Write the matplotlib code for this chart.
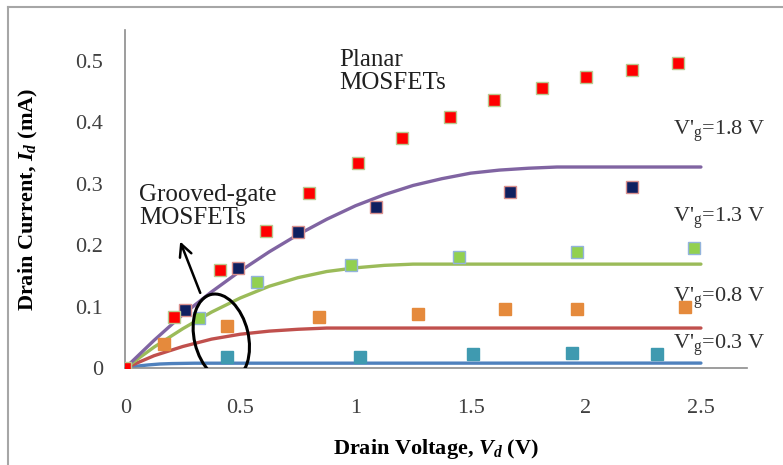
import matplotlib
matplotlib.use("Agg")
import matplotlib.pyplot as plt
from matplotlib.lines import Line2D
from matplotlib.patches import Ellipse
from matplotlib.transforms import ScaledTranslation
from matplotlib.ticker import FuncFormatter

plt.rcParams["font.family"] = ["Liberation Serif", "DejaVu Serif"]
plt.rcParams["mathtext.fontset"] = "custom"
plt.rcParams["mathtext.rm"] = "Liberation Serif"
plt.rcParams["mathtext.it"] = "Liberation Serif:italic:bold"
plt.rcParams["mathtext.bf"] = "Liberation Serif:bold"

# ---------------------------------------------------------------------------
# Data
# ---------------------------------------------------------------------------

# Planar MOSFET measurements (red squares)
planar_vd = [0.0, 0.21, 0.41, 0.61, 0.80, 1.01, 1.20, 1.41, 1.60, 1.81, 2.00, 2.20, 2.40]
planar_id = [0.0, 0.083, 0.160, 0.223, 0.285, 0.334, 0.375, 0.409, 0.436, 0.456, 0.474, 0.485, 0.497]

# Grooved-gate measurements, one list per gate voltage
g18_vd = [0.26, 0.49, 0.75, 1.09, 1.67, 2.20]
g18_id = [0.094, 0.163, 0.222, 0.262, 0.286, 0.295]
g13_vd = [0.32, 0.57, 0.98, 1.45, 1.96, 2.47]
g13_id = [0.081, 0.140, 0.168, 0.181, 0.189, 0.195]
g08_vd = [0.17, 0.44, 0.84, 1.27, 1.65, 1.96, 2.43]
g08_id = [0.039, 0.068, 0.083, 0.088, 0.096, 0.096, 0.099]
g03_vd = [0.44, 1.02, 1.51, 1.94, 2.31]
g03_id = [0.018, 0.018, 0.022, 0.024, 0.022]

# Model curves
m18_vd = [0.0, 0.125, 0.25, 0.375, 0.5, 0.625, 0.75, 0.875, 1.0, 1.125, 1.25,
          1.375, 1.5, 1.625, 1.75, 1.875, 2.0, 2.5]
m18_id = [0.0, 0.045, 0.087, 0.124, 0.158, 0.189, 0.217, 0.242, 0.264, 0.282, 0.297,
          0.308, 0.317, 0.322, 0.325, 0.327, 0.327, 0.327]
m13_vd = [0.0, 0.125, 0.25, 0.375, 0.5, 0.625, 0.75, 0.875, 1.0, 1.125, 1.25, 1.5, 2.5]
m13_id = [0.0, 0.034, 0.064, 0.091, 0.114, 0.133, 0.147, 0.157, 0.163, 0.167, 0.169,
          0.169, 0.169]
m08_vd = [0.0, 0.125, 0.25, 0.375, 0.5, 0.625, 0.75, 0.875, 1.0, 2.5]
m08_id = [0.0, 0.020, 0.035, 0.047, 0.055, 0.060, 0.063, 0.065, 0.065, 0.065]
m03_vd = [0.0, 0.05, 0.1, 0.15, 0.2, 0.3, 2.5]
m03_id = [0.0, 0.003, 0.005, 0.0065, 0.0072, 0.0078, 0.008]

gate_labels = ["V'$_{\\mathrm{g}}$=1.8 V", "V'$_{\\mathrm{g}}$=1.3 V",
               "V'$_{\\mathrm{g}}$=0.8 V", "V'$_{\\mathrm{g}}$=0.3 V"]
gate_label_y = [0.385, 0.244, 0.114, 0.037]

x_ticks = [0, 0.5, 1, 1.5, 2, 2.5]
y_ticks = [0, 0.1, 0.2, 0.3, 0.4, 0.5]

# ---------------------------------------------------------------------------
# Figure
# ---------------------------------------------------------------------------

fig = plt.figure(figsize=(7.83, 4.65), dpi=100)
ax = fig.add_axes([0.160, 0.2086, 0.794, 0.727])

# outer gray frame (left and top edges visible)
frame_x = 8 / 783
frame_y = 1 - 7 / 465
fig.add_artist(Line2D([frame_x, frame_x], [0, frame_y], color="#a6a6a6", lw=1.5,
                      transform=fig.transFigure))
fig.add_artist(Line2D([frame_x, 1], [frame_y, frame_y], color="#a6a6a6", lw=1.5,
                      transform=fig.transFigure))

line_kw = dict(lw=2.4, solid_capstyle="round", solid_joinstyle="round", zorder=2)
ax.plot(m03_vd, m03_id, color="#4f81bd", **line_kw)
ax.plot(m08_vd, m08_id, color="#c0504d", **line_kw)
ax.plot(m13_vd, m13_id, color="#9bbb59", **line_kw)
ax.plot(m18_vd, m18_id, color="#8064a2", **line_kw)

mk = dict(ls="none", marker="s", ms=8.5, mew=1.0, zorder=3)
ax.plot(g03_vd, g03_id, color="#3f9ab0", mec="#3f9ab0", **mk)
ax.plot(g08_vd, g08_id, color="#e58a3c", mec="#e58a3c", **mk)
ax.plot(g13_vd, g13_id, color="#92d050", mec="#93b3dc", **mk)
ax.plot(g18_vd, g18_id, color="#0f2060", mec="#d9908e", **mk)
ax.plot(planar_vd, planar_id, color="#ff0000", mec="#b9c98f", **mk)

# axes styling
ax.set_xlim(0, 2.7)
ax.set_ylim(0, 0.55)
for side in ("top", "right"):
    ax.spines[side].set_visible(False)
ax.spines["left"].set_color("#8c8c8c")
ax.spines["bottom"].set_color("#8c8c8c")
ax.spines["left"].set_linewidth(1.2)
ax.spines["bottom"].set_linewidth(1.2)
ax.set_xticks(x_ticks)
ax.set_yticks(y_ticks)
fmt = FuncFormatter(lambda v, _: f"{v:g}")
ax.xaxis.set_major_formatter(fmt)
ax.yaxis.set_major_formatter(fmt)
ax.tick_params(axis="both", length=0, labelsize=16, colors="#404040")
ax.tick_params(axis="y", pad=16)
ax.tick_params(axis="x", pad=22)

ax.set_xlabel("Drain Voltage, $V_d$ (V)", fontsize=16, fontweight="bold")
ax.set_ylabel("Drain Current, $I_d$ (mA)", fontsize=16, fontweight="bold")
ax.xaxis.set_label_coords(0.50, -0.205)
ax.yaxis.set_label_coords(-0.137, 0.50)

# annotations
ax.text(0.93, 0.482, "Planar\nMOSFETs", fontsize=18, va="center", ha="left",
        linespacing=1.05, color="#202020")
ax.text(0.06, 0.263, "Grooved-gate\nMOSFETs", fontsize=18, va="center", ha="left",
        linespacing=1.05, color="#202020")
for lbl, yy in zip(gate_labels, gate_label_y):
    ax.text(2.38, yy, lbl, fontsize=16, va="center", ha="left", color="#303030")

# ellipse around the grooved-gate points at low Vd
ell_tr = fig.dpi_scale_trans + ScaledTranslation(0.417, 0.050, ax.transData)
ax.add_patch(Ellipse((0, 0), 0.54, 0.88, angle=13.5, fill=False, ec="black",
                     lw=2.2, transform=ell_tr, zorder=4))
ax.annotate("", xy=(0.234, 0.210), xytext=(0.33, 0.118),
            arrowprops=dict(arrowstyle="->", color="black", lw=1.8,
                            mutation_scale=22), zorder=4)

fig.savefig("out.png", dpi=100)
